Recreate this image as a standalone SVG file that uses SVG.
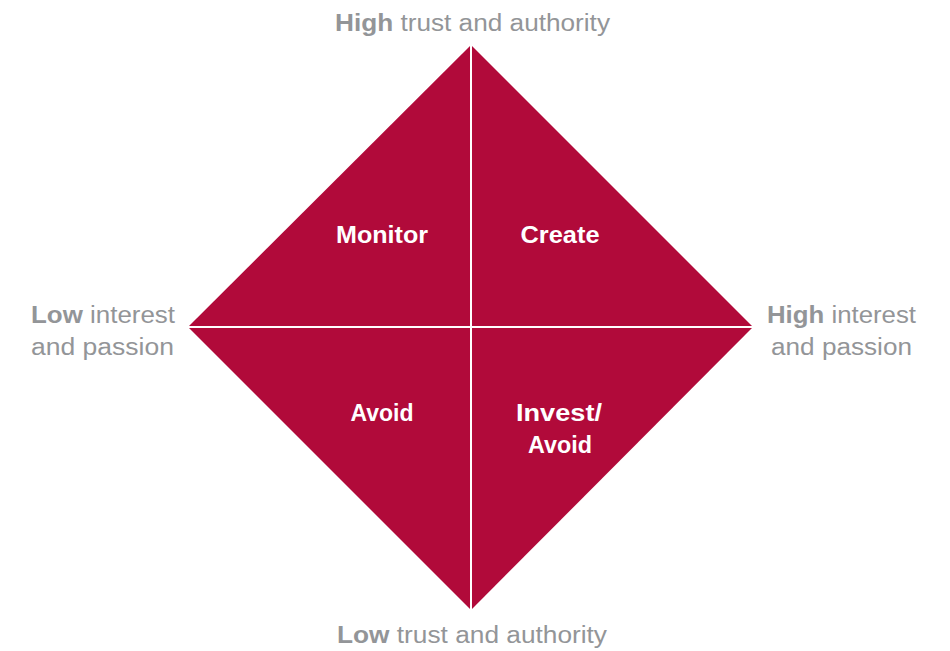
<svg xmlns="http://www.w3.org/2000/svg" width="950" height="651" viewBox="0 0 950 651">
  <style>
    .axis { font-family: "Liberation Sans", Arial, sans-serif; font-size: 23.5px; fill: #939598; text-anchor: middle; }
    .axis .b { font-weight: bold; }
    .quad { font-family: "Liberation Sans", Arial, sans-serif; font-size: 24px; font-weight: bold; fill: #ffffff; text-anchor: middle; }
    .divider { stroke: #ffffff; stroke-width: 2; }
  </style>
  <rect width="950" height="651" fill="#ffffff"/>

  <!-- diamond split into four quadrants -->
  <g id="quadrants">
    <g id="monitor">
      <polygon points="471,45 471,327 188,327" fill="#b10a3a"/>
      <text class="quad" x="382" y="243" textLength="92" lengthAdjust="spacingAndGlyphs">Monitor</text>
    </g>
    <g id="create">
      <polygon points="471,45 753,327 471,327" fill="#b10a3a"/>
      <text class="quad" x="560" y="243" textLength="79" lengthAdjust="spacingAndGlyphs">Create</text>
    </g>
    <g id="avoid">
      <polygon points="188,327 471,327 471,610" fill="#b10a3a"/>
      <text class="quad" x="382" y="421" textLength="63" lengthAdjust="spacingAndGlyphs">Avoid</text>
    </g>
    <g id="invest-avoid">
      <polygon points="471,327 753,327 471,610" fill="#b10a3a"/>
      <text class="quad" x="559" y="421" textLength="86" lengthAdjust="spacingAndGlyphs">Invest/</text>
      <text class="quad" x="560" y="453" textLength="64" lengthAdjust="spacingAndGlyphs">Avoid</text>
    </g>
  </g>

  <!-- axis dividers -->
  <g id="connectors">
    <line class="divider" x1="471" y1="40" x2="471" y2="615"/>
    <line class="divider" x1="183" y1="327" x2="758" y2="327"/>
  </g>

  <!-- axis labels -->
  <g id="top-label">
    <text class="axis" x="472.5" y="31" textLength="275" lengthAdjust="spacingAndGlyphs"><tspan class="b">High</tspan> trust and authority</text>
  </g>
  <g id="bottom-label">
    <text class="axis" x="472" y="643" textLength="270" lengthAdjust="spacingAndGlyphs"><tspan class="b">Low</tspan> trust and authority</text>
  </g>
  <g id="left-label">
    <text class="axis" x="103" y="323" textLength="144" lengthAdjust="spacingAndGlyphs"><tspan class="b">Low</tspan> interest</text>
    <text class="axis" x="102.5" y="355" textLength="143" lengthAdjust="spacingAndGlyphs">and passion</text>
  </g>
  <g id="right-label">
    <text class="axis" x="841.5" y="323" textLength="149" lengthAdjust="spacingAndGlyphs"><tspan class="b">High</tspan> interest</text>
    <text class="axis" x="841.5" y="355" textLength="141" lengthAdjust="spacingAndGlyphs">and passion</text>
  </g>
</svg>
